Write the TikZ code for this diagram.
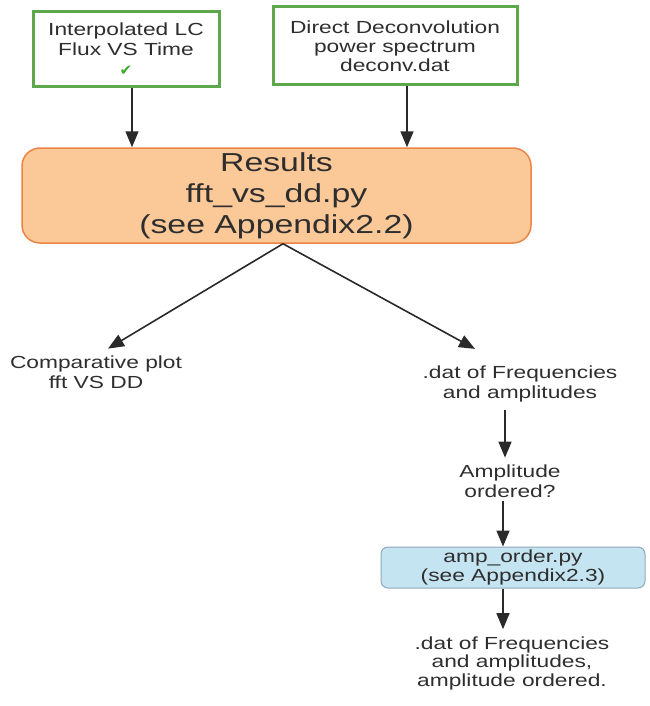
\documentclass[tikz,border=0pt]{standalone}
\usepackage{fontspec}
\setmainfont{Liberation Sans}[FakeStretch=1.3]
\newfontfamily\dvsans{DejaVu Sans}
\usetikzlibrary{arrows.meta,calc}
\definecolor{txt}{HTML}{2E2E2E}
\definecolor{grn}{HTML}{5DA84A}
\definecolor{chk}{HTML}{3DAA2E}
\definecolor{ofill}{HTML}{FBC898}
\definecolor{oline}{HTML}{EB8446}
\definecolor{bfill}{HTML}{C5E4F2}
\definecolor{bline}{HTML}{8FA9B5}
\definecolor{arrc}{HTML}{2A2A2A}
\begin{document}
\begin{tikzpicture}[x=1pt,y=-1pt,
  every node/.style={text=txt, align=center, inner sep=0pt},
  small/.style={font=\fontsize{17.5}{19.5}\selectfont},
  gbox/.style={small, draw=grn, line width=3pt, fill=white},
  resbox/.style={font=\fontsize{26}{31}\selectfont, draw=oline, fill=ofill, line width=1.5pt, rounded corners=18pt},
  bbox/.style={small, draw=bline, fill=bfill, line width=1pt, rounded corners=7pt},
  arrow/.style={draw=arrc, line width=1.6pt, -{Triangle[length=16pt,width=13pt]}}]
\useasboundingbox (0,0) rectangle (649,706);

\node[gbox, minimum width=186pt, minimum height=75pt] (b1) at (126,49.5)
  {Interpolated LC\\Flux VS Time\\[1pt]{\dvsans\color{chk}\fontsize{15}{15}\selectfont ✔}};
\node[gbox, minimum width=244pt, minimum height=78pt, font=\fontsize{17.5}{19}\selectfont] (b2) at (395,46)
  {Direct Deconvolution\\power spectrum\\deconv.dat};
\node[resbox, minimum width=509pt, minimum height=95pt] (res) at (276.5,195.5)
  {Results\\fft\_vs\_dd.py\\(see Appendix2.2)};

\node[small] (cmp) at (96,372) {Comparative plot\\fft VS DD};
\node[small] (dat1) at (520,384) {.dat of Frequencies\\and amplitudes};
\node[small] (q) at (510,481) {Amplitude\\ordered?};
\node[bbox, minimum width=264pt, minimum height=41pt] (amp) at (513,567.5)
  {amp\_order.py\\(see Appendix2.3)};
\node[small, font=\fontsize{17.5}{18.5}\selectfont] (fin) at (512,663)
  {.dat of Frequencies\\and amplitudes,\\amplitude ordered.};

\coordinate (xa) at (505,0);
\coordinate (xb) at (503,0);

\draw[arrow] ([xshift=6pt]b1.south) -- ([xshift=6pt]b1.south |- res.north);
\draw[arrow] ([xshift=12pt]b2.south) -- ([xshift=12pt]b2.south |- res.north);
\draw[arrow] ([xshift=6.5pt]res.south) -- ([xshift=12pt,yshift=7pt]cmp.north);
\draw[arrow] ([xshift=6.5pt]res.south) -- ([xshift=-45pt,yshift=17pt]dat1.north);
\draw[arrow, shorten <=8pt, shorten >=7pt] (dat1.south -| xa) -- (q.north -| xa);
\draw[arrow, shorten <=4pt] (q.south -| xb) -- (amp.north -| xb);
\draw[arrow, shorten >=7pt] (amp.south -| xb) -- (fin.north -| xb);
\end{tikzpicture}
\end{document}
